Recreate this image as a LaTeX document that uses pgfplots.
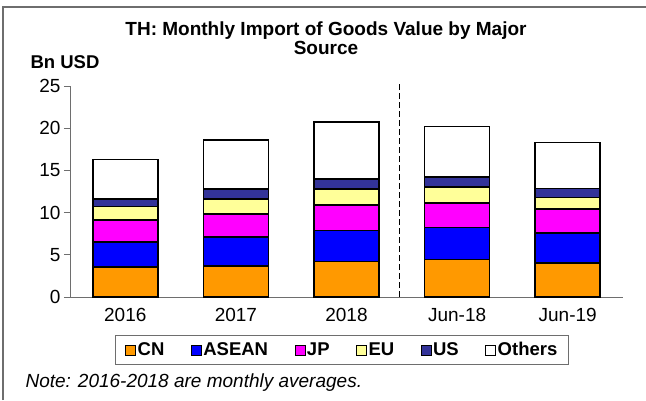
\documentclass[border=0pt]{standalone}
\usepackage{fontspec}
\setmainfont{Liberation Sans}
\usepackage{pgfplots}
\pgfplotsset{compat=1.18}

\definecolor{cnc}{RGB}{255,153,0}
\definecolor{asc}{RGB}{0,0,255}
\definecolor{jpc}{RGB}{255,0,255}
\definecolor{euc}{RGB}{255,255,153}
\definecolor{usc}{RGB}{51,51,153}
\definecolor{axg}{RGB}{110,110,110}

\begin{document}
\begin{tikzpicture}[x=1pt,y=1pt]
  \useasboundingbox (0,0) rectangle (646,400);
  % chart frame (only top and left edges are in the crop)
  \draw[axg, line width=1.3pt] (3,0) -- (3,393) -- (646,393);

  \node[font=\fontsize{19}{19.5}\selectfont\bfseries, align=center] at (326,362)
    {TH: Monthly Import of Goods Value by Major\\Source};
  \node[font=\fontsize{18.5}{19}\selectfont\bfseries, anchor=west] at (27,338) {Bn USD};

  \begin{axis}[
    at={(70pt,103pt)}, anchor=south west,
    width=553pt, height=211pt, scale only axis,
    ybar stacked, bar width=65pt,
    xmin=-0.5, xmax=4.5, ymin=0, ymax=25,
    axis x line*=bottom, axis y line*=left,
    axis line style={axg, line width=0.8pt},
    xtick={0,1,2,3,4},
    xticklabels={2016,2017,2018,Jun-18,Jun-19},
    major x tick style={draw=none},
    extra x ticks={-0.5,0.5,1.5,2.5,3.5,4.5},
    extra x tick labels={},
    extra x tick style={tick style={axg, line width=0.8pt, draw=axg}, major tick length=6pt},
    ytick={0,5,10,15,20,25},
    ytick style={axg, line width=0.8pt},
    tick align=outside, major tick length=6pt,
    ticklabel style={font=\fontsize{19}{19}\selectfont},
    /pgf/number format/assume math mode=true,
    xticklabel style={yshift=-2pt},
    clip=false,
    legend columns=6,
    legend style={at={(0.492,-0.251)}, anchor=center,
      draw=axg, line width=0.8pt,
      font=\fontsize{18.5}{19}\selectfont\bfseries,
      inner xsep=10pt, inner ysep=5pt,
      nodes={inner xsep=1.5pt},
      /tikz/every even column/.append style={column sep=25pt}},
    legend image code/.code={\draw[#1, draw=black, line width=0.9pt] (0pt,-5pt) rectangle (10pt,5pt);},
    every axis plot/.append style={draw=black, line width=1.6pt},
  ]
    \addplot[fill=cnc] coordinates {(0,3.55) (1,3.7) (2,4.2) (3,4.45) (4,4.05)};
    \addlegendentry{CN}
    \addplot[fill=asc] coordinates {(0,3.0) (1,3.4) (2,3.7) (3,3.8) (4,3.55)};
    \addlegendentry{ASEAN}
    \addplot[fill=jpc] coordinates {(0,2.55) (1,2.7) (2,3.0) (3,2.9) (4,2.8)};
    \addlegendentry{JP}
    \addplot[fill=euc] coordinates {(0,1.6) (1,1.8) (2,1.9) (3,1.9) (4,1.4)};
    \addlegendentry{EU}
    \addplot[fill=usc] coordinates {(0,0.9) (1,1.2) (2,1.2) (3,1.15) (4,1.05)};
    \addlegendentry{US}
    \addplot[fill=white] coordinates {(0,4.7) (1,5.8) (2,6.75) (3,6.0) (4,5.45)};
    \addlegendentry{Others}
    \draw[black, line width=1pt, dash pattern=on 6pt off 3pt] (axis cs:2.475,0) -- (axis cs:2.475,25.4);
  \end{axis}

  \node[font=\fontsize{19}{19}\selectfont\itshape, anchor=west] at (22,17) {Note: 2016-2018 are monthly averages.};
\end{tikzpicture}
\end{document}
